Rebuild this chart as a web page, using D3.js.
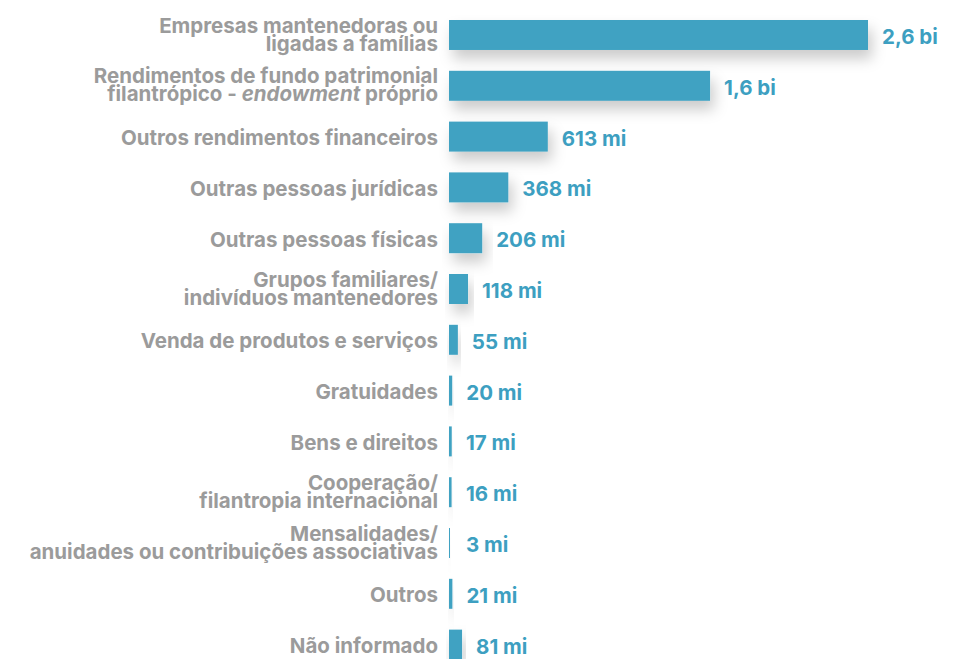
<!DOCTYPE html>
<html>
<head>
<meta charset="utf-8">
<script src="https://cdn.jsdelivr.net/npm/d3@7"></script>
<style>
  html, body { margin: 0; padding: 0; background: #fff; }
  svg { display: block; font-family: Inter, "Noto Sans", sans-serif; }
</style>
</head>
<body>
<svg id="chart" width="974" height="659"></svg>
<script>
// categories (lines of each label; *text* = italic)
const categories = [
  "Empresas mantenedoras ou|ligadas a famílias",
  "Rendimentos de fundo patrimonial|filantrópico - *endowment* próprio",
  "Outros rendimentos financeiros",
  "Outras pessoas jurídicas",
  "Outras pessoas físicas",
  "Grupos familiares/|indivíduos mantenedores",
  "Venda de produtos e serviços",
  "Gratuidades",
  "Bens e direitos",
  "Cooperação/|filantropia internacional",
  "Mensalidades/|anuidades ou contribuições associativas",
  "Outros",
  "Não informado"
];
// values in R$ millions
const values = [2600, 1620, 613, 368, 206, 118, 55, 20, 17, 16, 3, 21, 81];
const valueLabels = ["2,6 bi", "1,6 bi", "613 mi", "368 mi", "206 mi", "118 mi", "55 mi",
  "20 mi", "17 mi", "16 mi", "3 mi", "21 mi", "81 mi"];

const data = categories.map((c, i) => ({ cat: c, value: values[i], label: valueLabels[i] }));

const svg = d3.select("#chart");
const x0 = 449;

const x = d3.scaleLinear().domain([0, 2600]).range([x0, x0 + 419]);
const y = d3.scaleBand()
  .domain(categories)
  .range([20, 659.6])
  .paddingInner(0.41)
  .paddingOuter(0);

const defs = svg.append("defs");
const f = defs.append("filter").attr("id", "shadow")
  .attr("x", "-20%").attr("y", "-60%").attr("width", "150%").attr("height", "280%");
f.append("feDropShadow")
  .attr("dx", 4).attr("dy", 9).attr("stdDeviation", 7)
  .attr("flood-color", "#000").attr("flood-opacity", 0.2);

// bars
svg.append("g").selectAll("rect")
  .data(data)
  .join("rect")
  .attr("x", x0)
  .attr("y", d => y(d.cat))
  .attr("width", d => Math.max(1, x(d.value) - x0))
  .attr("height", y.bandwidth())
  .attr("fill", "#3fa2c2")
  .attr("filter", "url(#shadow)");

// value labels
svg.append("g").selectAll("text")
  .data(data)
  .join("text")
  .attr("x", d => Math.max(x(d.value), x0 + 3) + 14)
  .attr("y", d => y(d.cat) + y.bandwidth() / 2 + 9)
  .attr("fill", "#3d9fc1")
  .attr("font-size", 20.5)
  .attr("font-weight", 700)
  .text(d => d.label);

// category labels
const lab = svg.append("g").selectAll("text")
  .data(data)
  .join("text")
  .attr("text-anchor", "end")
  .attr("fill", "#9b9b9b")
  .attr("font-size", 20.5)
  .attr("font-weight", 700);

lab.each(function (d) {
  const lines = d.cat.split("|");
  const cy = y(d.cat) + y.bandwidth() / 2;
  const t = d3.select(this);
  lines.forEach((line, li) => {
    const ly = lines.length === 1 ? cy + 8.5 : cy - 2.3 + li * 18;
    const parts = line.split("*");
    parts.forEach((p, pi) => {
      const ts = t.append("tspan").text(p)
        .attr("font-style", pi % 2 === 1 ? "italic" : null);
      if (pi === 0) ts.attr("x", 438).attr("y", ly);
    });
  });
});
</script>
</body>
</html>
